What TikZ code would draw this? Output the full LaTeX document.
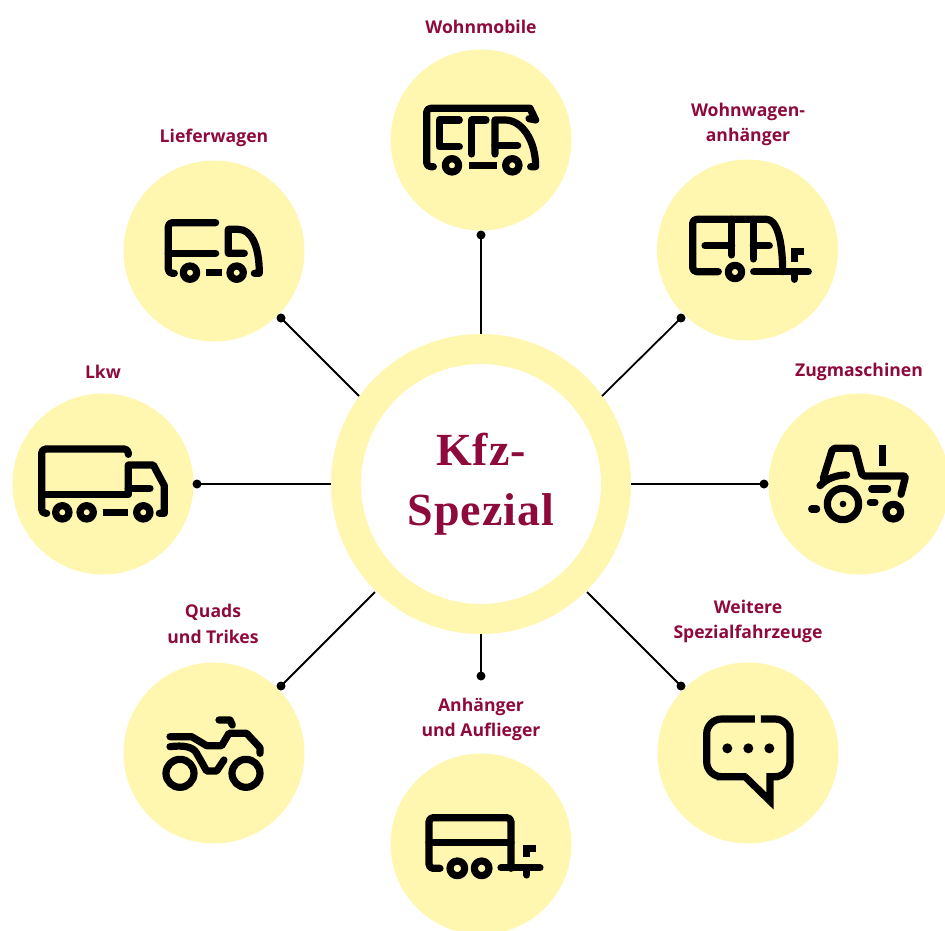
\documentclass[tikz,border=0pt]{standalone}
\usepackage{fontspec}
\setmainfont{Open Sans}
\newfontfamily\titlefont[LetterSpace=2]{Liberation Serif}
\usetikzlibrary{calc}
\definecolor{wine}{HTML}{8E0A3C}
\definecolor{pale}{HTML}{FFF6B0}
\tikzset{
  x=1pt,y=-1pt,
  disc/.style={circle,fill=pale,minimum size=181pt,inner sep=0pt},
  hub/.style={circle,draw=pale,line width=30pt,fill=white,minimum size=270pt,inner sep=0pt,outer sep=0pt,font=\titlefont\bfseries\fontsize{46}{60}\selectfont,text=wine,align=center},
  lab/.style={font=\bfseries\fontsize{17.6}{25.5}\selectfont,text=wine,align=center},
  pin/.style={circle,fill=black,minimum size=9pt,inner sep=0pt},
  link/.style={line width=1.8pt,black},
  ico/.style={x=0.3333pt,y=-0.3333pt,line width=7.2pt,line cap=round,line join=round,black},
  sq/.style={line cap=butt},
}
\begin{document}
\begin{tikzpicture}
\useasboundingbox (0,0) rectangle (945,930);
\node[disc] (d1) at (481,140) {};
\node[disc] (d2) at (747.5,250) {};
\node[disc] (d3) at (859,484) {};
\node[disc] (d4) at (748,753) {};
\node[disc] (d5) at (481,844) {};
\node[disc] (d6) at (214,753) {};
\node[disc] (d7) at (103,484) {};
\node[disc] (d8) at (214,251) {};
\node[hub] (hub) at (481,484) {Kfz-\\Spezial};
\node[lab] (l1) at (481,27) {Wohnmobile};
\node[lab] (l2) at (748,124.5) {Wohnwagen-\\anhänger};
\node[lab] (l3) at (859,372) {Zugmaschinen};
\node[lab] (l4) at (748,621.5) {Weitere\\Spezialfahrzeuge};
\node[lab] (l5) at (481,719.5) {Anhänger\\und Auflieger};
\node[lab] (l6) at (213,624) {Quads\\und Trikes};
\node[lab] (l7) at (103,372) {Lkw};
\node[lab] (l8) at (214,138) {Lieferwagen};
\node[pin] (p1) at (481,235) {};
\node[pin] (p2) at (681,318) {};
\node[pin] (p3) at (764,484) {};
\node[pin] (p4) at (681,686) {};
\node[pin] (p5) at (481,676) {};
\node[pin] (p6) at (281,686) {};
\node[pin] (p7) at (197,484) {};
\node[pin] (p8) at (281,318) {};
\coordinate (c1) at (481,334);
\coordinate (c2) at (602,396);
\coordinate (c3) at (631,484);
\coordinate (c4) at (587,592);
\coordinate (c5) at (481,634);
\coordinate (c6) at (375,592);
\coordinate (c7) at (331,484);
\coordinate (c8) at (359,396);
\foreach \i in {1,...,8} \draw[link] (p\i.center) -- (c\i);
% Wohnmobile
\begin{scope}[shift={(390,50)},ico]
\draw[rounded corners=4pt] (130,350) -- (110,350) -- (110,175) -- (420,175);
\draw (420,175) -- (437,210) -- (417,206);
\draw (315,312) -- (315,210) -- (345,210) .. controls (395,210) and (437,270) .. (437,350) -- (422,350);
\draw (315,287) -- (383,287);
\draw (208,210) -- (148,210) -- (148,290) -- (208,290);
\draw (288,210) -- (245,210) -- (245,312);
\draw[sq] (238,346) -- (320,346);
\draw (186,346) circle (20);
\draw (367,346) circle (20);
\end{scope}
% Wohnwagen
\begin{scope}[shift={(655,160)},ico]
\draw[rounded corners=4pt] (190,335) -- (113,335) -- (113,178) -- (335,178);
\draw (335,178) .. controls (365,178) and (383,240) .. (383,335);
\draw (296,335) -- (460,335);
\draw (150,257) -- (230,257);
\draw (230,178) -- (230,285);
\draw (295,178) -- (295,297);
\draw (295,257) -- (343,257);
\draw (240,336) circle (20);
\draw (418,335) -- (418,358);
\draw[sq,line join=miter] (448,275) -- (418,275) -- (418,305);
\end{scope}
% Zugmaschinen
\begin{scope}[shift={(765,395)},ico]
\draw[rounded corners=2pt] (175,250) -- (203,160) -- (270,160) -- (292,243) -- (422,243) -- (408,298);
\draw (165,272) .. controls (185,250) and (215,240) .. (245,240);
\draw[sq] (352,150) -- (352,212);
\draw (320,282) -- (368,282);
\draw (316,322) -- (330,322);
\draw (140,342) -- (155,342);
\draw (234,327) circle (47);
\fill (234,327) circle (10);
\draw (385,350) circle (22);
\end{scope}
% Weitere
\begin{scope}[shift={(655,665)},ico]
\draw[sq,line join=miter,rounded corners=15pt] (300,162) -- (155,162) -- (155,335) -- (230,335) [sharp corners] -- (270,335) -- (345,408) -- (345,335) -- (370,335) [rounded corners=15pt] -- (405,335) -- (405,162) -- (318,162);
\fill (217,250) circle (15);
\fill (280,250) circle (15);
\fill (343,250) circle (15);
\end{scope}
% Anhaenger
\begin{scope}[shift={(390,750)},ico]
\draw[rounded corners=4pt] (150,355) -- (117,355) -- (117,203) -- (363,203) -- (363,355);
\draw (117,277) -- (363,277);
\draw (333,353) -- (450,353);
\draw (410,353) -- (410,375);
\draw[sq,line join=miter] (438,295) -- (410,295) -- (410,322);
\draw (202,355) circle (22);
\draw (275,355) circle (22);
\end{scope}
% Quads
\begin{scope}[shift={(125,665)},ico]
\draw (135,215) -- (200,215) -- (245,242) -- (290,242) -- (312,205) -- (365,205) -- (405,248) -- (405,265);
\draw (282,165) -- (315,165) -- (322,180);
\draw (165,325) circle (42);
\draw (363,325) circle (42);
\draw (135,245) .. controls (175,240) and (205,245) .. (215,265) -- (245,318) -- (275,318) -- (297,285);
\end{scope}
% Lkw
\begin{scope}[shift={(10,395)},ico]
\draw[rounded corners=4pt] (110,355) -- (95,355) -- (95,162) -- (355,162) -- (355,178);
\draw (95,298) -- (355,298);
\draw (355,298) -- (355,210) -- (430,210) -- (463,272) -- (463,355) -- (448,355);
\draw (355,280) -- (420,280);
\draw[sq] (278,352) -- (355,352);
\draw (157,352) circle (20);
\draw (230,352) circle (20);
\draw (400,352) circle (20);
\end{scope}
% Lieferwagen
\begin{scope}[shift={(125,160)},ico]
\draw[rounded corners=4pt] (148,340) -- (130,340) -- (130,188) -- (272,188);
\draw (130,280) -- (272,280);
\draw (358,280) -- (310,280) -- (310,208) -- (340,208) .. controls (380,208) and (403,260) .. (403,340) -- (388,340);
\draw[sq] (243,338) -- (290,338);
\draw (195,338) circle (20);
\draw (335,338) circle (20);
\end{scope}
\end{tikzpicture}
\end{document}
